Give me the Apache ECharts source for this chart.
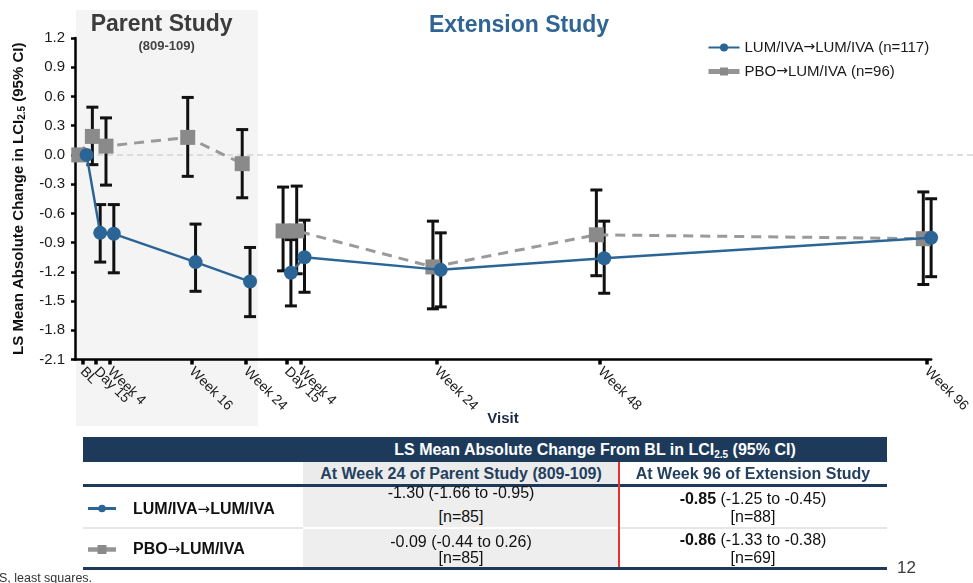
<!DOCTYPE html>
<html>
<head>
<meta charset="utf-8">
<script src="https://cdn.jsdelivr.net/npm/echarts@6.0.0/dist/echarts.min.js"></script>
<style>
  html, body { margin: 0; padding: 0; background: #fff; }
  #wrap { position: relative; width: 973px; height: 583px; overflow: hidden;
          font-family: 'Liberation Sans', Arial, Helvetica, sans-serif; }
  #chart { position: absolute; left: 0; top: 0; width: 973px; height: 583px; }
  .blk { position: absolute; box-sizing: border-box; }
  .txt { position: absolute; white-space: nowrap; line-height: 18px; height: 18px; }
  .c { transform: translateX(-50%); text-align: center; }
  .arr { font-family: 'DejaVu Sans', sans-serif; font-weight: normal; font-size: 15px; }
  sub { font-size: 10px; vertical-align: -3px; line-height: 0; }
</style>
</head>
<body>
<div id="wrap">
  <div id="chart"></div>

  <!-- summary table -->
  <div class="blk" style="left:82.7px;top:437.3px;width:804px;height:25px;background:#1e3a5b;"></div>
  <div class="txt c" style="left:595px;top:440.8px;color:#fff;font-weight:bold;font-size:16px;">LS Mean Absolute Change From BL in LCI<sub>2.5</sub> (95% CI)</div>

  <div class="blk" style="left:303.3px;top:462.3px;width:315.7px;height:22px;background:#ebebeb;"></div>
  <div class="txt c" style="left:461px;top:464.5px;color:#23405f;font-weight:bold;font-size:16px;">At Week 24 of Parent Study (809-109)</div>
  <div class="txt c" style="left:753px;top:464.5px;color:#23405f;font-weight:bold;font-size:16px;">At Week 96 of Extension Study</div>
  <div class="blk" style="left:82.7px;top:484.3px;width:804px;height:3px;background:#1e3a5b;"></div>

  <div class="blk" style="left:303.3px;top:487.3px;width:315.7px;height:40px;background:#eeeeee;"></div>
  <div class="blk" style="left:82.7px;top:527.3px;width:220.6px;height:1.5px;background:#e6e6e6;"></div>
  <div class="blk" style="left:619px;top:527.3px;width:267.7px;height:1.5px;background:#e6e6e6;"></div>
  <div class="blk" style="left:303.3px;top:529.3px;width:315.7px;height:38px;background:#eeeeee;"></div>
  <div class="blk" style="left:82.7px;top:567.3px;width:804px;height:3px;background:#1e3a5b;"></div>
  <div class="blk" style="left:618.3px;top:462.3px;width:1.5px;height:105px;background:#e8332c;"></div>

  <svg class="blk" style="left:86px;top:501px;" width="32" height="15">
    <line x1="2" y1="7.5" x2="30" y2="7.5" stroke="#2b6596" stroke-width="3"/>
    <circle cx="16" cy="7.5" r="3.8" fill="#2b6596"/>
  </svg>
  <div class="txt" style="left:133px;top:499.5px;font-weight:bold;font-size:16px;color:#111;">LUM/IVA<span class="arr">→</span>LUM/IVA</div>
  <svg class="blk" style="left:86px;top:541.5px;" width="32" height="15">
    <line x1="2" y1="7.5" x2="30" y2="7.5" stroke="#959595" stroke-width="4.5"/>
    <rect x="11.5" y="3" width="9" height="9" fill="#8a8a8a"/>
  </svg>
  <div class="txt" style="left:133px;top:540px;font-weight:bold;font-size:16px;color:#111;">PBO<span class="arr">→</span>LUM/IVA</div>

  <div class="txt c" style="left:461px;top:483.5px;font-size:16px;color:#111;">-1.30 (-1.66 to -0.95)</div>
  <div class="txt c" style="left:461px;top:508px;font-size:16px;color:#111;">[n=85]</div>
  <div class="txt c" style="left:753px;top:490px;font-size:16px;color:#111;"><b>-0.85</b> (-1.25 to -0.45)</div>
  <div class="txt c" style="left:753px;top:508px;font-size:16px;color:#111;">[n=88]</div>

  <div class="txt c" style="left:461px;top:532.5px;font-size:16px;color:#111;">-0.09 (-0.44 to 0.26)</div>
  <div class="txt c" style="left:461px;top:548.5px;font-size:16px;color:#111;">[n=85]</div>
  <div class="txt c" style="left:753px;top:531px;font-size:16px;color:#111;"><b>-0.86</b> (-1.33 to -0.38)</div>
  <div class="txt c" style="left:753px;top:548.7px;font-size:16px;color:#111;">[n=69]</div>

  <div class="txt" style="left:-8px;top:569px;font-size:12.5px;color:#333;">LS, least squares.</div>
  <div class="txt" style="left:897px;top:558px;font-size:17px;line-height:20px;color:#3a3a3a;">12</div>
</div>

<script>
// Visits on a continuous week scale: parent study (BL..Week 24), then extension (Day 15..Week 96)
const visitWeeks  = [0, 2, 4, 16, 24, 30, 32, 52, 76, 124];
const visitLabels = ['BL', 'Day 15', 'Week 4', 'Week 16', 'Week 24', 'Day 15', 'Week 4', 'Week 24', 'Week 48', 'Week 96'];
const extensionStartIndex = 5;   // first visit of the extension study
const parentShadeEnd = 25.8;     // week where the parent-study panel ends
const xRange = { min: -1.1, max: 124.6 };

// LUM/IVA -> LUM/IVA: LS mean and 95% CI
const lumMean = [0.00, -0.80, -0.81, -1.10, -1.30, -1.21, -1.05, -1.18, -1.06, -0.85];
const lumLow  = [null, -1.10, -1.21, -1.40, -1.66, -1.55, -1.41, -1.56, -1.42, -1.25];
const lumHigh = [null, -0.51, -0.51, -0.71, -0.95, -0.87, -0.67, -0.80, -0.68, -0.45];

// PBO -> LUM/IVA: LS mean and 95% CI
const pboMean = [0.00, 0.19, 0.09, 0.18, -0.09, -0.78, -0.78, -1.15, -0.82, -0.86];
const pboLow  = [null, -0.10, -0.31, -0.22, -0.44, -1.19, -1.22, -1.58, -1.24, -1.33];
const pboHigh = [null, 0.49, 0.38, 0.59, 0.26, -0.33, -0.32, -0.68, -0.36, -0.38];

const yTicks = { min: -2.1, max: 1.2, step: 0.3 };

const LUM_NAME = 'LUM/IVA→LUM/IVA (n=117)';
const PBO_NAME = 'PBO→LUM/IVA (n=96)';
const BLUE = '#2b6596';
const GREY = '#8a8a8a';
const FONT = "'Liberation Sans', Arial, Helvetica, sans-serif";
const ARROW_FONT = "'DejaVu Sans', sans-serif";
const DODGE_PBO = -0.55;   // small horizontal dodge (weeks) so the groups do not overlap
const DODGE_LUM = 0.6;

function points(mean, shift, from, to) {
  const out = [];
  for (let i = from; i < to; i++) out.push([visitWeeks[i] + shift, mean[i]]);
  return out;
}
function bars(low, high, shift) {
  const out = [];
  for (let i = 0; i < visitWeeks.length; i++) {
    if (low[i] != null && high[i] != null) out.push([visitWeeks[i] + shift, low[i], high[i]]);
  }
  return out;
}
function renderErrorBar(params, api) {
  const x = api.value(0);
  const lo = api.coord([x, api.value(1)]);
  const hi = api.coord([x, api.value(2)]);
  const half = 6;
  const style = { stroke: '#111', lineWidth: 3 };
  return {
    type: 'group',
    children: [
      { type: 'line', shape: { x1: lo[0], y1: lo[1], x2: hi[0], y2: hi[1] }, style },
      { type: 'line', shape: { x1: lo[0] - half, y1: lo[1], x2: lo[0] + half, y2: lo[1] }, style },
      { type: 'line', shape: { x1: hi[0] - half, y1: hi[1], x2: hi[0] + half, y2: hi[1] }, style }
    ]
  };
}

const n = visitWeeks.length;
const pboLine = {
  type: 'line', name: PBO_NAME, z: 3,
  symbol: 'rect', symbolSize: 15, showSymbol: true,
  itemStyle: { color: GREY },
  lineStyle: { color: '#9a9a9a', width: 3, type: [10, 7] },
  emphasis: { disabled: true }, animation: false
};
const lumLine = {
  type: 'line', name: LUM_NAME, z: 4,
  symbol: 'circle', symbolSize: 14, showSymbol: true,
  itemStyle: { color: BLUE },
  lineStyle: { color: BLUE, width: 2.5 },
  emphasis: { disabled: true }, animation: false
};

// an empty label sits at the axis start so the closely spaced visit labels are all kept
const labelValues = [xRange.min].concat(visitWeeks);

const chart = echarts.init(document.getElementById('chart'), null, { renderer: 'canvas' });

chart.setOption({
  animation: false,
  grid: { left: 75, right: 36.5, top: 38, bottom: 223.5, containLabel: false },
  legend: {
    orient: 'vertical', left: 701, top: 35,
    itemWidth: 31, itemHeight: 10, itemGap: 9,
    formatter: name => name.replace('→', '{a|→}'),
    textStyle: {
      fontFamily: FONT, fontSize: 15, color: '#1a1a1a',
      rich: { a: { fontFamily: ARROW_FONT, fontSize: 14, color: '#1a1a1a' } }
    },
    data: [
      { name: LUM_NAME },
      { name: PBO_NAME, lineStyle: { type: 'solid', width: 5, color: '#959595' } }
    ],
    selectedMode: false
  },
  xAxis: {
    type: 'value', min: xRange.min, max: xRange.max,
    axisLine: { show: true, onZero: false, lineStyle: { color: '#000', width: 2.5 } },
    axisTick: { show: true, customValues: visitWeeks, length: 5, lineStyle: { color: '#000', width: 3.5 } },
    axisLabel: {
      customValues: labelValues,
      formatter: v => { const i = visitWeeks.indexOf(v); return i < 0 ? '' : visitLabels[i]; },
      rotate: -45, margin: 10, fontSize: 14,
      hideOverlap: false,
      fontFamily: FONT, color: '#1b1b1b'
    },
    splitLine: { show: false },
    name: 'Visit', nameLocation: 'middle', nameGap: 52, nameMoveOverlap: false,
    nameTextStyle: { fontFamily: FONT, fontWeight: 'bold', fontSize: 15, color: '#1c2a44' }
  },
  yAxis: {
    type: 'value', min: yTicks.min, max: yTicks.max, interval: yTicks.step,
    axisLine: { show: true, onZero: false, lineStyle: { color: '#000', width: 2.5 } },
    axisTick: { show: true, length: 4, lineStyle: { color: '#000', width: 2.5 } },
    axisLabel: {
      formatter: v => (Math.abs(v) < 1e-9 ? '0.0' : v.toFixed(1)),
      fontSize: 15, margin: 10, fontFamily: FONT, color: '#1b1b1b'
    },
    splitLine: { show: false },
    name: 'LS Mean Absolute Change in LCI{s|2.5} (95% CI)',
    nameLocation: 'middle', nameGap: 48,
    nameTextStyle: {
      fontFamily: FONT, fontWeight: 'bold', fontSize: 15, color: '#111',
      rich: { s: { fontFamily: FONT, fontWeight: 'bold', fontSize: 10, color: '#111', padding: [7, 0, 0, 0] } }
    }
  },
  series: [
    {
      type: 'custom', name: 'pboCI', z: 2, renderItem: renderErrorBar,
      encode: { x: 0, y: [1, 2] }, data: bars(pboLow, pboHigh, DODGE_PBO), silent: true
    },
    {
      type: 'custom', name: 'lumCI', z: 2, renderItem: renderErrorBar,
      encode: { x: 0, y: [1, 2] }, data: bars(lumLow, lumHigh, DODGE_LUM), silent: true
    },
    Object.assign({}, pboLine, { data: points(pboMean, DODGE_PBO, 0, extensionStartIndex) }),
    Object.assign({}, pboLine, { data: points(pboMean, DODGE_PBO, extensionStartIndex, n) }),
    Object.assign({}, lumLine, { data: points(lumMean, DODGE_LUM, 0, extensionStartIndex) }),
    Object.assign({}, lumLine, { data: points(lumMean, DODGE_LUM, extensionStartIndex, n) })
  ]
});

// Panel shading, zero reference line and study headings placed from the axis scales
const xLeft = chart.convertToPixel({ gridIndex: 0 }, [xRange.min, 0]);
const xRight = chart.convertToPixel({ gridIndex: 0 }, [parentShadeEnd, 0]);
const zeroY = xLeft[1];
const shadeMid = (xLeft[0] + xRight[0]) / 2;

chart.setOption({
  graphic: [
    {
      type: 'rect', z: -10, silent: true,
      shape: { x: xLeft[0] + 1, y: 10, width: xRight[0] - xLeft[0] - 1, height: 416 },
      style: { fill: '#f4f4f4' }
    },
    {
      type: 'line', z: -5, silent: true,
      shape: { x1: xLeft[0] + 2, y1: zeroY, x2: 973, y2: zeroY },
      style: { stroke: '#d4d4d4', lineWidth: 1.5, lineDash: [6, 4] }
    },
    {
      type: 'text', x: shadeMid - 5, y: 25, silent: true,
      style: { text: 'Parent Study', font: "bold 23px " + FONT, fill: '#3c3c3c',
               textAlign: 'center', textVerticalAlign: 'middle' }
    },
    {
      type: 'text', x: shadeMid, y: 46, silent: true,
      style: { text: '(809-109)', font: "bold 13px " + FONT, fill: '#444',
               textAlign: 'center', textVerticalAlign: 'middle' }
    },
    {
      type: 'text', x: 519, y: 26, silent: true,
      style: { text: 'Extension Study', font: "bold 23px " + FONT, fill: '#2f6595',
               textAlign: 'center', textVerticalAlign: 'middle' }
    }
  ]
});
</script>
</body>
</html>
